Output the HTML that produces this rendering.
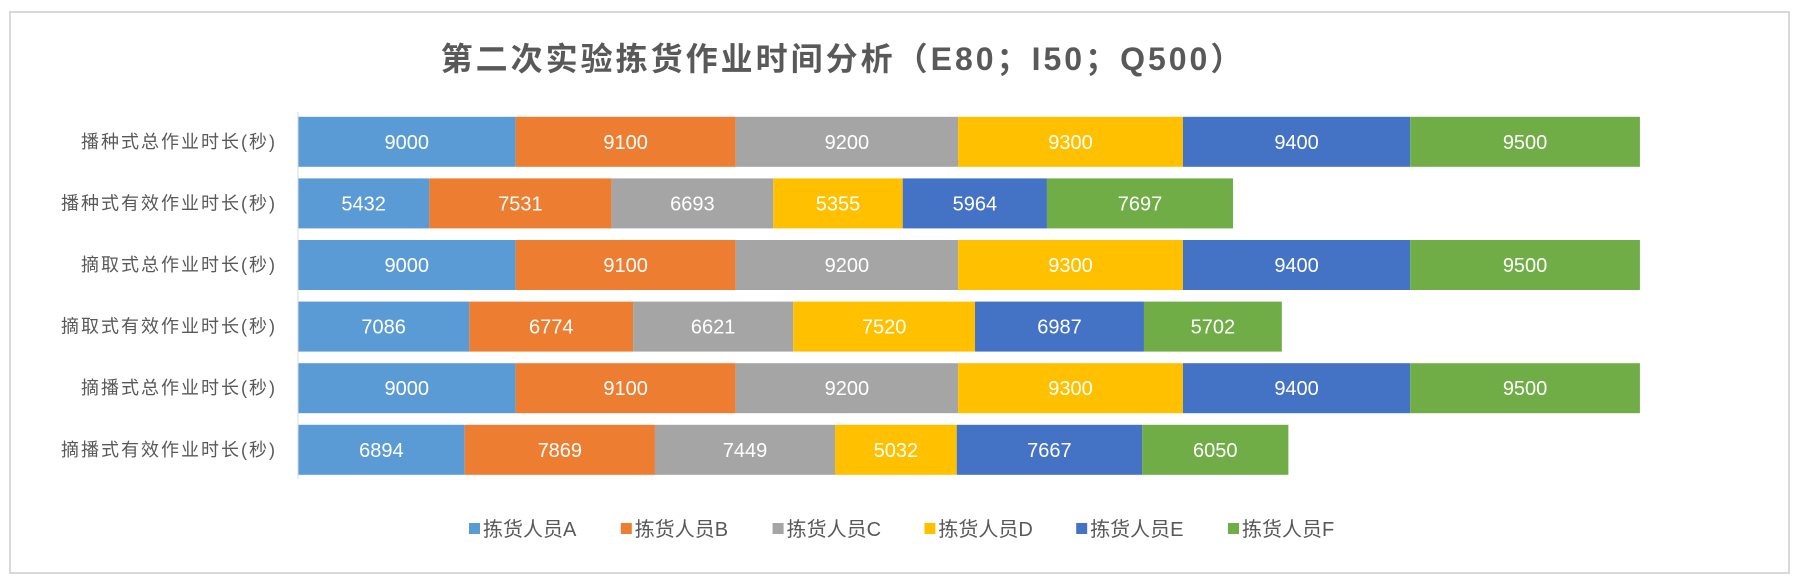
<!DOCTYPE html>
<html><head><meta charset="utf-8"><style>
html,body{margin:0;padding:0;background:#fff;}
svg{display:block;font-family:"Liberation Sans","Noto Sans CJK SC",sans-serif;}
</style></head><body>
<svg id="chart" width="1802" height="583" viewBox="0 0 1802 583">
<rect x="10" y="12" width="1779" height="561" fill="#fff" stroke="#d9d9d9" stroke-width="2"/>
<text x="843" y="70" text-anchor="middle" font-size="32" font-weight="bold" fill="#595959" letter-spacing="3">第二次实验拣货作业时间分析（E80；I50；Q500）</text>
<g id="plot"></g>
<g id="legend"></g>
</svg>
<script>
const categories = ["播种式总作业时长(秒)","播种式有效作业时长(秒)","摘取式总作业时长(秒)","摘取式有效作业时长(秒)","摘播式总作业时长(秒)","摘播式有效作业时长(秒)"];
const seriesNames = ["拣货人员A","拣货人员B","拣货人员C","拣货人员D","拣货人员E","拣货人员F"];
const seriesA = [9000,5432,9000,7086,9000,6894];
const seriesB = [9100,7531,9100,6774,9100,7869];
const seriesC = [9200,6693,9200,6621,9200,7449];
const seriesD = [9300,5355,9300,7520,9300,5032];
const seriesE = [9400,5964,9400,6987,9400,7667];
const seriesF = [9500,7697,9500,5702,9500,6050];
const colors = ["#5b9bd5","#ed7d31","#a5a5a5","#ffc000","#4472c4","#70ad47"];

const NS = "http://www.w3.org/2000/svg";
const series = [seriesA,seriesB,seriesC,seriesD,seriesE,seriesF];
const x0 = 298, pxPerUnit = (1652-298)/56000;
const xScale = v => x0 + v*pxPerUnit;
const bandTop = 111, band = 61.6, barH = 50;
const yScale = i => bandTop + i*band + (band-barH)/2;
const plot = document.getElementById('plot');
const legend = document.getElementById('legend');

function mk(tag, attrs, parent){const e=document.createElementNS(NS,tag);for(const k in attrs)e.setAttribute(k,attrs[k]);parent.appendChild(e);return e;}

categories.forEach((cat,i)=>{
  let cum=0;
  const y=yScale(i);
  series.forEach((s,j)=>{
    const v=s[i];
    const xa=xScale(cum), xb=xScale(cum+v);
    const r=mk('rect',{x:xa,y:y,width:xb-xa,height:barH,fill:colors[j]},plot);
    
    
    const t=mk('text',{x:(xa+xb)/2,y:y+barH/2+7,'text-anchor':'middle','font-size':20,fill:'#fff'},plot);
    t.textContent=v;
    
    
    cum+=v;
  });
  const lab=mk('text',{x:277,y:y+barH/2+6,'text-anchor':'end','font-size':18,fill:'#595959','letter-spacing':2},plot);
  lab.textContent=cat;
  
  
});
const ax=mk('line',{x1:298,y1:112,x2:298,y2:479,stroke:'#d9d9d9','stroke-width':1},plot);



seriesNames.forEach((n,j)=>{
  const lx=469+j*151.8;
  const g=mk('g',{},legend);
  
  
  mk('rect',{x:lx,y:523,width:11,height:11,fill:colors[j]},g);
  const t=mk('text',{x:lx+14,y:536,'font-size':20,fill:'#595959'},g);
  t.textContent=n;
});
</script>
</body></html>
